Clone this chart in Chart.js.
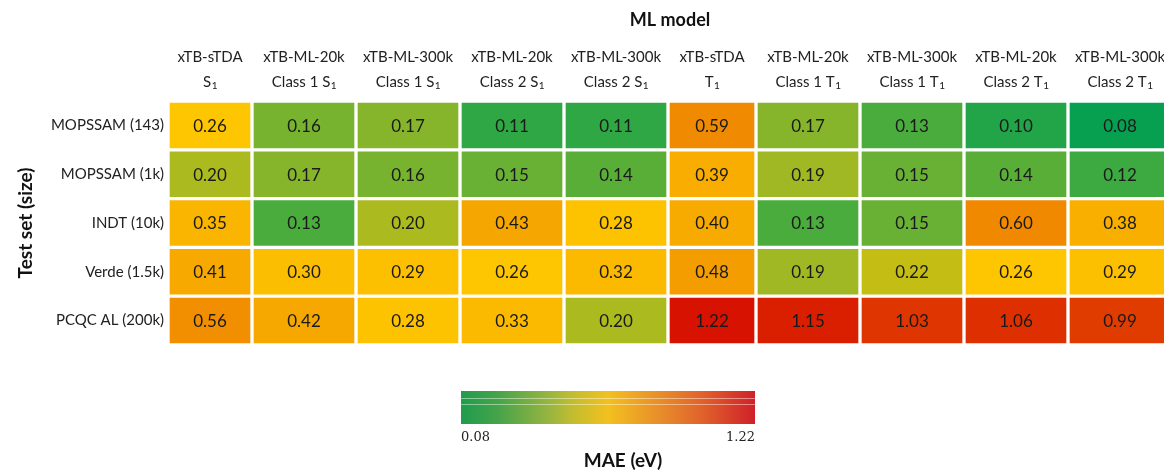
<!DOCTYPE html>
<html>
<head>
<meta charset="utf-8">
<script src="https://cdn.jsdelivr.net/npm/chart.js@4.4.1/dist/chart.umd.min.js"></script>
<style>
html, body { margin: 0; padding: 0; background: #fff; overflow: hidden; }
#wrap { width: 1172px; height: 471px; }
</style>
</head>
<body>
<div id="wrap"><canvas id="heatmap"></canvas></div>
<script>
// test sets (rows) and models (columns)
const testSets = ['MOPSSAM (143)', 'MOPSSAM (1k)', 'INDT (10k)', 'Verde (1.5k)', 'PCQC AL (200k)'];
const modelNames = ['xTB-sTDA', 'xTB-ML-20k', 'xTB-ML-300k', 'xTB-ML-20k', 'xTB-ML-300k',
                    'xTB-sTDA', 'xTB-ML-20k', 'xTB-ML-300k', 'xTB-ML-20k', 'xTB-ML-300k'];
const stateNames = ['S₁', 'Class 1 S₁', 'Class 1 S₁', 'Class 2 S₁', 'Class 2 S₁',
                    'T₁', 'Class 1 T₁', 'Class 1 T₁', 'Class 2 T₁', 'Class 2 T₁'];

// MAE (eV) per test set
const mopssam143 = [0.26, 0.16, 0.17, 0.11, 0.11, 0.59, 0.17, 0.13, 0.10, 0.08];
const mopssam1k  = [0.20, 0.17, 0.16, 0.15, 0.14, 0.39, 0.19, 0.15, 0.14, 0.12];
const indt10k    = [0.35, 0.13, 0.20, 0.43, 0.28, 0.40, 0.13, 0.15, 0.60, 0.38];
const verde15k   = [0.41, 0.30, 0.29, 0.26, 0.32, 0.48, 0.19, 0.22, 0.26, 0.29];
const pcqcAl200k = [0.56, 0.42, 0.28, 0.33, 0.20, 1.22, 1.15, 1.03, 1.06, 0.99];
const maeRows = [mopssam143, mopssam1k, indt10k, verde15k, pcqcAl200k];

// column widths (sTDA columns are narrower, they follow the header text)
const colWidths = [84, 104, 104, 104, 104, 88, 104, 104, 104, 104];
const colEdges = [0];
colWidths.forEach((w, i) => colEdges.push(colEdges[i] + w));

// cell colour map
const colorStops = [
    [0.08, '#06a050'], [0.13, '#4aac3c'], [0.17, '#86b52b'], [0.20, '#abba1f'],
    [0.22, '#c4be14'], [0.26, '#fec600'], [0.40, '#f7ab00'], [0.60, '#f08800'],
    [0.99, '#e03c00'], [1.22, '#d81200']
];

function hexToRgb(h) {
    return [parseInt(h.slice(1, 3), 16), parseInt(h.slice(3, 5), 16), parseInt(h.slice(5, 7), 16)];
}

function maeColor(v) {
    if (v <= colorStops[0][0]) return colorStops[0][1];
    for (var i = 1; i < colorStops.length; i++) {
        if (v <= colorStops[i][0]) {
            var t = (v - colorStops[i - 1][0]) / (colorStops[i][0] - colorStops[i - 1][0]);
            var a = hexToRgb(colorStops[i - 1][1]), b = hexToRgb(colorStops[i][1]);
            var c = a.map((x, k) => Math.round(x + (b[k] - x) * t));
            return 'rgb(' + c.join(',') + ')';
        }
    }
    return colorStops[colorStops.length - 1][1];
}

const allValues = maeRows.flat();
const maeMin = Math.min(...allValues);
const maeMax = Math.max(...allValues);

const FONT = 'Lato, "Liberation Sans", sans-serif';

// draws "Class 1 S₁" with a real small subscript
function drawSubText(ctx, text, cx, cy, size) {
    var main = text.replace('₁', '');
    var hasSub = text.indexOf('₁') >= 0;
    ctx.font = size + 'px ' + FONT;
    var mw = ctx.measureText(main).width;
    var sw = 0;
    if (hasSub) {
        ctx.font = Math.round(size * 0.68) + 'px ' + FONT;
        sw = ctx.measureText('1').width;
    }
    var x0 = cx - (mw + sw) / 2;
    ctx.textAlign = 'left';
    ctx.font = size + 'px ' + FONT;
    ctx.fillText(main, x0, cy);
    if (hasSub) {
        ctx.font = Math.round(size * 0.68) + 'px ' + FONT;
        ctx.fillText('1', x0 + mw + 0.5, cy + 4);
    }
}

const heatLabels = {
    id: 'heatLabels',
    afterDatasetsDraw(chart) {
        const ctx = chart.ctx;
        const area = chart.chartArea;
        const xs = chart.scales.x, ys = chart.scales.y;
        ctx.save();
        ctx.textBaseline = 'middle';

        // values in the cells
        ctx.fillStyle = '#1a1a1a';
        ctx.textAlign = 'center';
        ctx.font = '17px ' + FONT;
        maeRows.forEach((row, r) => {
            row.forEach((v, c) => {
                var cx = xs.getPixelForValue((colEdges[c] + colEdges[c + 1]) / 2);
                ctx.fillText(v.toFixed(2), cx, ys.getPixelForValue(r) + 1);
            });
        });

        // row labels
        ctx.fillStyle = '#222';
        ctx.textAlign = 'right';
        ctx.font = '15px ' + FONT;
        testSets.forEach((t, r) => {
            ctx.fillText(t, area.left - 4, ys.getPixelForValue(r));
        });

        // column headers
        modelNames.forEach((m, c) => {
            var cx = xs.getPixelForValue((colEdges[c] + colEdges[c + 1]) / 2);
            ctx.textAlign = 'center';
            ctx.font = '15px ' + FONT;
            ctx.fillText(m, cx, 57);
            drawSubText(ctx, stateNames[c], cx, 82, 15);
        });

        // titles
        ctx.fillStyle = '#111';
        ctx.textAlign = 'center';
        ctx.font = 'bold 18px ' + FONT;
        ctx.fillText('ML model', (area.left + area.right) / 2, 20);

        ctx.save();
        ctx.translate(26, (area.top + area.bottom) / 2);
        ctx.rotate(-Math.PI / 2);
        ctx.font = 'bold 19px ' + FONT;
        ctx.fillText('Test set (size)', 0, 0);
        ctx.restore();

        // colour bar
        var bx = 461, by = 391, bw = 294, bh = 33;
        var g = ctx.createLinearGradient(bx, 0, bx + bw, 0);
        g.addColorStop(0, '#1f9c4c');
        g.addColorStop(0.12, '#44a34a');
        g.addColorStop(0.3, '#98b540');
        g.addColorStop(0.38, '#c2bd2f');
        g.addColorStop(0.5, '#f3c01f');
        g.addColorStop(0.66, '#e9922a');
        g.addColorStop(0.82, '#e0622b');
        g.addColorStop(1, '#d0202a');
        ctx.fillStyle = g;
        ctx.fillRect(bx, by, bw, bh);
        ctx.strokeStyle = 'rgba(255,255,255,0.45)';
        ctx.lineWidth = 1;
        ctx.beginPath();
        ctx.moveTo(bx, by + 7.5); ctx.lineTo(bx + bw, by + 7.5);
        ctx.moveTo(bx, by + 13.5); ctx.lineTo(bx + bw, by + 13.5);
        ctx.stroke();

        ctx.fillStyle = '#222';
        ctx.font = '13px "DejaVu Serif", serif';
        ctx.textAlign = 'left';
        ctx.fillText(maeMin.toFixed(2), bx, 438);
        ctx.textAlign = 'right';
        ctx.fillText(maeMax.toFixed(2), bx + bw, 438);

        ctx.fillStyle = '#111';
        ctx.textAlign = 'center';
        ctx.font = 'bold 19px ' + FONT;
        ctx.fillText('MAE (eV)', 623, 461);

        ctx.restore();
    }
};

const datasets = modelNames.map((m, c) => ({
    label: m + ' ' + stateNames[c],
    data: maeRows.map(() => [colEdges[c], colEdges[c + 1]]),
    backgroundColor: maeRows.map(row => maeColor(row[c])),
    borderColor: '#ffffff',
    borderWidth: 2,
    borderSkipped: false,
    grouped: false,
    barPercentage: 1,
    categoryPercentage: 1
}));

new Chart(document.getElementById('heatmap'), {
    type: 'bar',
    data: {
        labels: testSets,
        datasets: datasets
    },
    options: {
        indexAxis: 'y',
        responsive: true,
        maintainAspectRatio: false,
        animation: false,
        layout: { padding: { left: 168, top: 101, right: 0, bottom: 126 } },
        plugins: {
            legend: { display: false },
            tooltip: { enabled: false }
        },
        scales: {
            x: { type: 'linear', min: 0, max: colEdges[colEdges.length - 1], display: false },
            y: { type: 'category', display: false, offset: true }
        }
    },
    plugins: [heatLabels]
});
</script>
</body>
</html>
